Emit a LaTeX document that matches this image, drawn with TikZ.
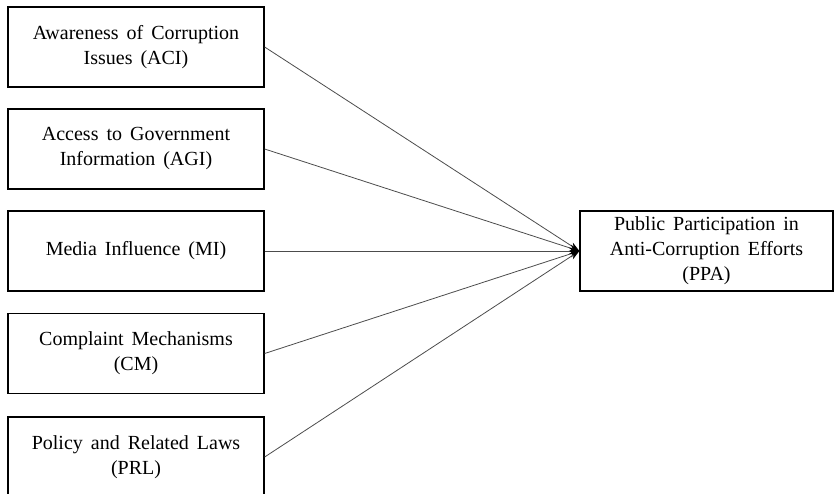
\documentclass[tikz,border=0pt]{standalone}
\usepackage{fontspec}
\setmainfont[WordSpace=1.6]{Liberation Serif}
\usetikzlibrary{arrows.meta}
\begin{document}
\begin{tikzpicture}[x=1pt,y=-1pt,
  box/.style={draw=black,line width=1.3pt,rectangle,minimum width=256pt,minimum height=80pt,inner sep=0pt,align=center,font=\fontsize{20}{25}\selectfont},
  link/.style={draw=black!70,line width=0.8pt,-{Stealth[length=10pt,width=7pt,fill=black,color=black]}}]
\useasboundingbox (0,0) rectangle (834,493);
\node[box] (aci) at (136,47) {Awareness of Corruption\\Issues (ACI)};
\node[box] (agi) at (136,149) {Access to Government\\Information (AGI)};
\node[box] (mi) at (136,251) {Media Influence (MI)};
\node[box] (cm) at (136,353.5) {Complaint Mechanisms\\(CM)};
\node[box] (prl) at (136,457) {Policy and Related Laws\\(PRL)};
\node[box,minimum width=253pt] (ppa) at (706.5,251) {Public Participation in\\Anti-Corruption Efforts\\(PPA)};
\foreach \n in {aci,agi,mi,cm,prl}
  \draw[link] (\n.east) -- (ppa.west);
\end{tikzpicture}
\end{document}
